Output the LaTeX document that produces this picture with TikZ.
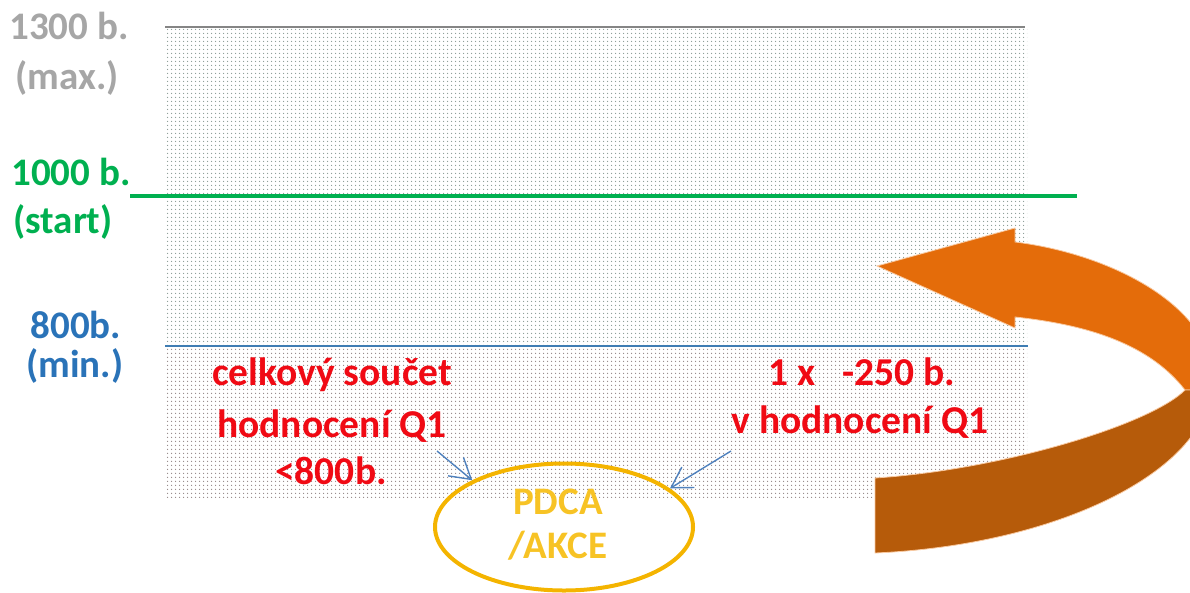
\documentclass[tikz,border=0pt]{standalone}
\usepackage{fontspec}
\setmainfont{Carlito}
\usetikzlibrary{arrows.meta,patterns.meta,shapes.geometric}

\definecolor{maxgray}{HTML}{A6A6A6}
\definecolor{startgreen}{HTML}{00B050}
\definecolor{minblue}{HTML}{2A73B8}
\definecolor{lineblue}{HTML}{3F7DB3}
\definecolor{warnred}{HTML}{F00A14}
\definecolor{pdcagold}{HTML}{F4B400}
\definecolor{pdcatext}{HTML}{F7C325}
\definecolor{arrowblue}{HTML}{4F81BD}
\definecolor{loopup}{HTML}{E46C0A}
\definecolor{loopdown}{HTML}{B65B0A}
\definecolor{loopedge}{HTML}{F9C9A0}
\definecolor{dotsupper}{HTML}{84968F}
\definecolor{dotslower}{HTML}{8E8282}

\tikzset{
  scalelbl/.style={font=\bfseries\fontsize{39}{44}\selectfont, anchor=base, inner sep=0pt},
  redlbl/.style={font=\bfseries\fontsize{39.5}{44}\selectfont, anchor=base, inner sep=0pt, text=warnred},
  pdcalbl/.style={font=\bfseries\fontsize{39}{44}\selectfont, anchor=base, inner sep=0pt, text=pdcatext},
  pointer/.style={draw=arrowblue, line width=1.4pt, -{Straight Barb[length=20pt,width=24pt,line width=1.4pt]}},
}

\begin{document}
\begin{tikzpicture}[x=1pt,y=-1pt]
\useasboundingbox (0,0) rectangle (1190,592);
\clip (0,0) rectangle (1190,592);

% dotted score bands
\fill[pattern={Dots[distance=4pt,radius=0.8pt]}, pattern color=dotsupper] (165,27) rectangle (1027,346);
\fill[pattern={Dots[distance=4pt,radius=0.8pt]}, pattern color=dotslower] (165,346) rectangle (1027,497);

% level lines
\draw[maxgray!80!black, line width=2pt] (165,27) -- (1025,27);
\draw[startgreen, line width=3.5pt] (130,196) -- (1077,196);
\draw[lineblue, line width=2pt] (165,346) -- (1028,346);

% level labels
\node[scalelbl, text=maxgray] (l1300) at (69,39) {1300 b.};
\node[scalelbl, text=maxgray] (lmax) at (67,89) {(max.)};
\node[scalelbl, text=startgreen] (l1000) at (71,185) {1000 b.};
\node[scalelbl, text=startgreen] (lstart) at (63,233) {(start)};
\node[scalelbl, text=minblue] (l800) at (76,338) {800b.};
\node[scalelbl, text=minblue] (lmin) at (75,377) {(min.)};

% triggers
\node[redlbl] (sum1) at (332,385) {celkový součet};
\node[redlbl] (sum2) at (332,437) {hodnocení Q1};
\node[redlbl] (sum3) at (331,484) {<800b.};
\node[redlbl] (pen1) at (862,385) {1 x\ \ \ -250 b.};
\node[redlbl] (pen2) at (860,433) {v hodnocení Q1};

% action ellipse
\node[ellipse, draw=pdcagold, line width=4pt, minimum width=258pt, minimum height=127pt, inner sep=0pt] (pdca) at (564,527) {};
\node[pdcalbl] (pdcaA) at (558,514) {PDCA};
\node[pdcalbl] (pdcaB) at (558,558) {/AKCE};

% pointers to the action
\coordinate (sumtail) at (437,451);
\coordinate (pentail) at (731,451);
\draw[pointer] (sumtail) -- (pdca.153);
\draw[pointer] (pentail) -- (pdca.20);

% curved return arrow, upper (light) part with head
\fill[loopup, draw=loopedge, line width=0.8pt]
  (877,266) -- (1015,228) -- (1015,242)
  .. controls (1120,255) and (1225,315) .. (1210,390)
  -- (1185,390)
  .. controls (1150,345) and (1090,325) .. (1015,317)
  -- (1015,328) -- cycle;
% lower (dark) part with the tail
\fill[loopdown, draw=loopedge, line width=0.8pt]
  (1185,390) -- (1210,390)
  .. controls (1205,470) and (1060,545) .. (875,553)
  -- (875,478)
  .. controls (1000,470) and (1150,425) .. (1185,390) -- cycle;
\end{tikzpicture}
\end{document}
